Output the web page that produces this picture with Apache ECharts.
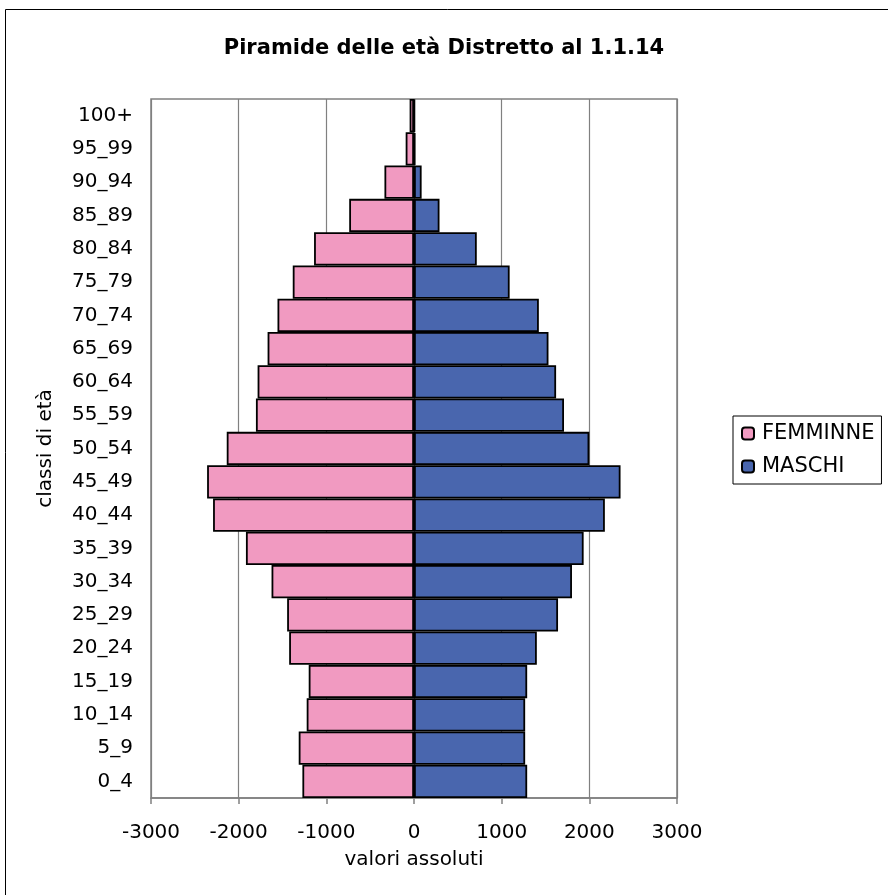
<!DOCTYPE html>
<html>
<head>
<meta charset="utf-8">
<script src="https://cdn.jsdelivr.net/npm/echarts@6/dist/echarts.min.js"></script>
<style>
html,body{margin:0;padding:0;background:#fff;}
#chart{width:888px;height:895px;}
</style>
</head>
<body>
<div id="chart"></div>
<script>
var categories = ['0_4','5_9','10_14','15_19','20_24','25_29','30_34','35_39','40_44','45_49','50_54','55_59','60_64','65_69','70_74','75_79','80_84','85_89','90_94','95_99','100+'];
var femmine = [-1273,-1315,-1224,-1201,-1424,-1447,-1625,-1917,-2292,-2360,-2136,-1803,-1784,-1670,-1557,-1383,-1140,-739,-337,-95,-50];
var maschi = [1291,1268,1268,1291,1401,1643,1802,1935,2177,2356,2000,1711,1621,1534,1424,1091,716,291,87,15,8];
var xTicks = {min:-3000, max:3000, interval:1000};

var FONT = 'DejaVu Sans';
var chart = echarts.init(document.getElementById('chart'), null, {renderer:'canvas'});
chart.setOption({
  backgroundColor:'#fff',
  animation:false,
  title:{
    text:'Piramide delle età Distretto al 1.1.14',
    left:'center', top:33,
    textStyle:{fontFamily:FONT, fontWeight:'bold', fontSize:21, color:'#000'}
  },
  graphic:[{
    type:'rect', silent:true, z:-1,
    shape:{x:5.5, y:9.5, width:1000, height:1000},
    style:{fill:'none', stroke:'#000', lineWidth:1}
  }],
  legend:{
    orient:'vertical', left:733, top:416,
    itemWidth:12, itemHeight:12, itemGap:12,
    padding:[7,7,7,8],
    borderColor:'#000', borderWidth:1,
    data:['FEMMINNE','MASCHI'],
    textStyle:{fontFamily:FONT, fontSize:21, color:'#000', padding:[0,0,0,3]}
  },
  grid:{left:151, right:211, top:99, bottom:97, show:true, borderColor:'#808080', borderWidth:1.5, containLabel:false},
  xAxis:{
    type:'value', min:xTicks.min, max:xTicks.max, interval:xTicks.interval,
    name:'valori assoluti', nameLocation:'middle', nameGap:52,
    nameTextStyle:{fontFamily:FONT, fontSize:20, color:'#000'},
    axisLine:{show:true, onZero:false, lineStyle:{color:'#808080', width:1.5}},
    axisTick:{show:true, length:6, lineStyle:{color:'#808080', width:1.5}},
    axisLabel:{fontFamily:FONT, fontSize:20, color:'#000', margin:25,
      formatter:function(v){return String(v);}},
    splitLine:{show:true, lineStyle:{color:'#808080', width:1.2}}
  },
  yAxis:{
    type:'category', data:categories,
    name:'classi di età', nameLocation:'middle', nameGap:95, nameRotate:90,
    nameTextStyle:{fontFamily:FONT, fontSize:20, color:'#000'},
    axisLine:{show:false}, axisTick:{show:false},
    axisLabel:{fontFamily:FONT, fontSize:20, color:'#000', margin:18}
  },
  series:[
    {name:'FEMMINNE', type:'bar', data:femmine, barCategoryGap:'0%', barGap:'-100%',
     itemStyle:{color:'#F19AC1', borderColor:'#000', borderWidth:1.8}},
    {name:'MASCHI', type:'bar', data:maschi, barCategoryGap:'0%', barGap:'-100%',
     itemStyle:{color:'#4966AE', borderColor:'#000', borderWidth:1.8}}
  ]
});
</script>
</body>
</html>
